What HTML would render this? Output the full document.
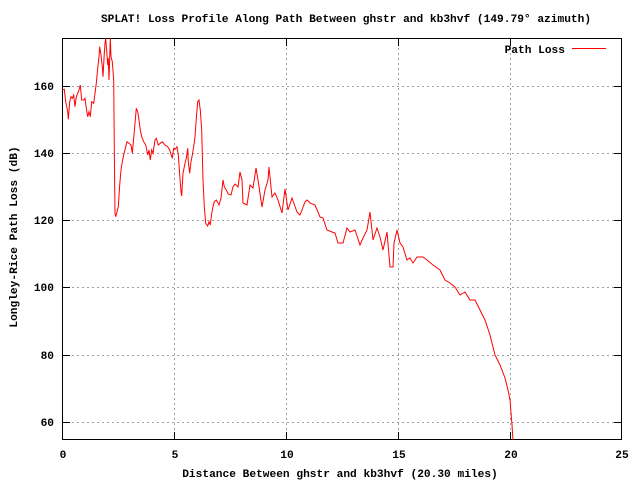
<!DOCTYPE html>
<html><head><meta charset="utf-8"><style>body{margin:0;background:#fff}svg{display:block}text{font-family:"Liberation Mono","DejaVu Sans Mono",monospace;font-size:11.2px;font-weight:bold;fill:#000}</style></head>
<body>
<svg width="640" height="480" viewBox="0 0 640 480">
<rect width="640" height="480" fill="#fff"/>
<g stroke="#a0a0a0" stroke-dasharray="2,3" stroke-width="1">
<line x1="62" y1="422.5" x2="622" y2="422.5"/><line x1="62" y1="355.5" x2="622" y2="355.5"/>
<line x1="62" y1="287.5" x2="622" y2="287.5"/><line x1="62" y1="220.5" x2="622" y2="220.5"/>
<line x1="62" y1="153.5" x2="622" y2="153.5"/><line x1="62" y1="86.5" x2="622" y2="86.5"/>
<line x1="174.5" y1="38" x2="174.5" y2="440"/><line x1="286.5" y1="38" x2="286.5" y2="440"/>
<line x1="398.5" y1="38" x2="398.5" y2="440"/><line x1="510.5" y1="38" x2="510.5" y2="440"/>
</g>
<rect x="62.5" y="38.5" width="559" height="401" fill="none" stroke="#000"/>
<g stroke="#000">
<line x1="62" y1="422.5" x2="70" y2="422.5"/><line x1="614" y1="422.5" x2="622" y2="422.5"/>
<line x1="62" y1="355.5" x2="70" y2="355.5"/><line x1="614" y1="355.5" x2="622" y2="355.5"/>
<line x1="62" y1="287.5" x2="70" y2="287.5"/><line x1="614" y1="287.5" x2="622" y2="287.5"/>
<line x1="62" y1="220.5" x2="70" y2="220.5"/><line x1="614" y1="220.5" x2="622" y2="220.5"/>
<line x1="62" y1="153.5" x2="70" y2="153.5"/><line x1="614" y1="153.5" x2="622" y2="153.5"/>
<line x1="62" y1="86.5" x2="70" y2="86.5"/><line x1="614" y1="86.5" x2="622" y2="86.5"/>
<line x1="174.5" y1="440" x2="174.5" y2="432"/><line x1="174.5" y1="38" x2="174.5" y2="46"/>
<line x1="286.5" y1="440" x2="286.5" y2="432"/><line x1="286.5" y1="38" x2="286.5" y2="46"/>
<line x1="398.5" y1="440" x2="398.5" y2="432"/><line x1="398.5" y1="38" x2="398.5" y2="46"/>
<line x1="510.5" y1="440" x2="510.5" y2="432"/><line x1="510.5" y1="38" x2="510.5" y2="46"/>
</g>
<g text-anchor="end">
<text x="54" y="426">60</text><text x="54" y="359">80</text><text x="54" y="291">100</text>
<text x="54" y="224">120</text><text x="54" y="157">140</text><text x="54" y="90">160</text>
</g>
<g text-anchor="middle">
<text x="63" y="458">0</text><text x="175" y="458">5</text><text x="287" y="458">10</text>
<text x="399" y="458">15</text><text x="511" y="458">20</text><text x="622" y="458">25</text>
<text x="340" y="477">Distance Between ghstr and kb3hvf (20.30 miles)</text>
<text x="346" y="22">SPLAT! Loss Profile Along Path Between ghstr and kb3hvf (149.79° azimuth)</text>
<text transform="translate(17,237) rotate(-90)">Longley-Rice Path Loss (dB)</text>
</g>
<text x="565" y="53" text-anchor="end">Path Loss</text>
<line x1="572" y1="48.5" x2="606" y2="48.5" stroke="#f00"/>
<svg x="62" y="38" width="560" height="402" viewBox="62 38 560 402" overflow="hidden">
<polyline fill="none" stroke="#f00" stroke-width="1" points="62,90 64.3,89.3 65.7,101.7 67.7,111.7 68.3,119.3 69.7,101.7 71,96.7 72.3,98.3 73.7,95 75,106.7 76.3,96.7 77.7,93.3 79,90 80.3,85 81.7,100 83.7,100 85,98.3 86.3,108.3 87.7,116.7 89,111.7 90.3,116.7 91.7,101.7 93.7,103.3 95,93.3 96.3,83.3 97.7,68.3 99,56.7 99.7,46.7 101,55 102.3,66.7 103,76.7 104.3,53.3 105,43.3 105.7,38.3 107,55 107.7,65 108.3,58.3 109,80 110.3,38.3 111,56.7 112.3,61.7 113.7,80 114.3,148.3 115,213.3 115.7,216.7 117,211.7 118.3,206.7 119.7,185 121,170 122.3,161.7 123.7,155 125.7,146.7 127,141.7 129,143.3 131,145 132.3,153.3 133.7,138.3 135,123.3 136.3,108.3 137.7,111.7 139,120 140.3,130 141.7,136.7 143.7,141.7 145.7,145 147.7,155 149,150 150.3,160 151.7,150 153,153.3 155,140 156.3,138.3 158.3,145 160.3,143.3 162.3,141.7 165,145 167.7,146.7 169.7,150 172.3,158.3 173.7,148.3 175,149.3 177,146.7 178.3,155 179.7,175 181,191.7 181.7,196 183,173.3 185,163.3 186.3,158.3 187.7,148.3 188.3,161.7 189.7,173.3 191,161.7 192.3,155 193.7,146.7 195,136.7 196.3,118.3 197.7,101.7 199,100 200.3,110 201.7,130 203,180 204.3,206.7 205.7,223.3 207.7,226 209,221.7 210.3,225 211.7,213.3 213,206.7 214.3,201.7 216.3,200 219,205 221,198.3 223,180 224.3,186.7 226.3,190 228.3,194 231,195 233,186.7 235,184 238,187 240,172 242,180 243,203 247,205 250,185 253,188 256,168 258,180 262,207 265,190 268,180 269,167 272,197 275,193 278,200 282,213 285,189 288,210 292,198 297,212 300,215 305,202 307,200 310,203 315,205 320,217 323,218 327,230 332,232 335,233 338,243 343,243 347,228 350,232 355,230 360,245 363,238 367,230 370,212 373,240 377,228 380,237 383,250 387,232 390,267 393,267 394,243 397,230 400,243 403,247 407,260 410,258 413,263 417,257 423,257 427,260 433,265 440,270 445,280 450,283 455,287 460,295 465,292 470,300 475,300 480,310 485,320 490,335 495,355 500,365 505,378 508,390 510,400 512,425 513,440"/>
</svg>
</svg>
</body></html>
